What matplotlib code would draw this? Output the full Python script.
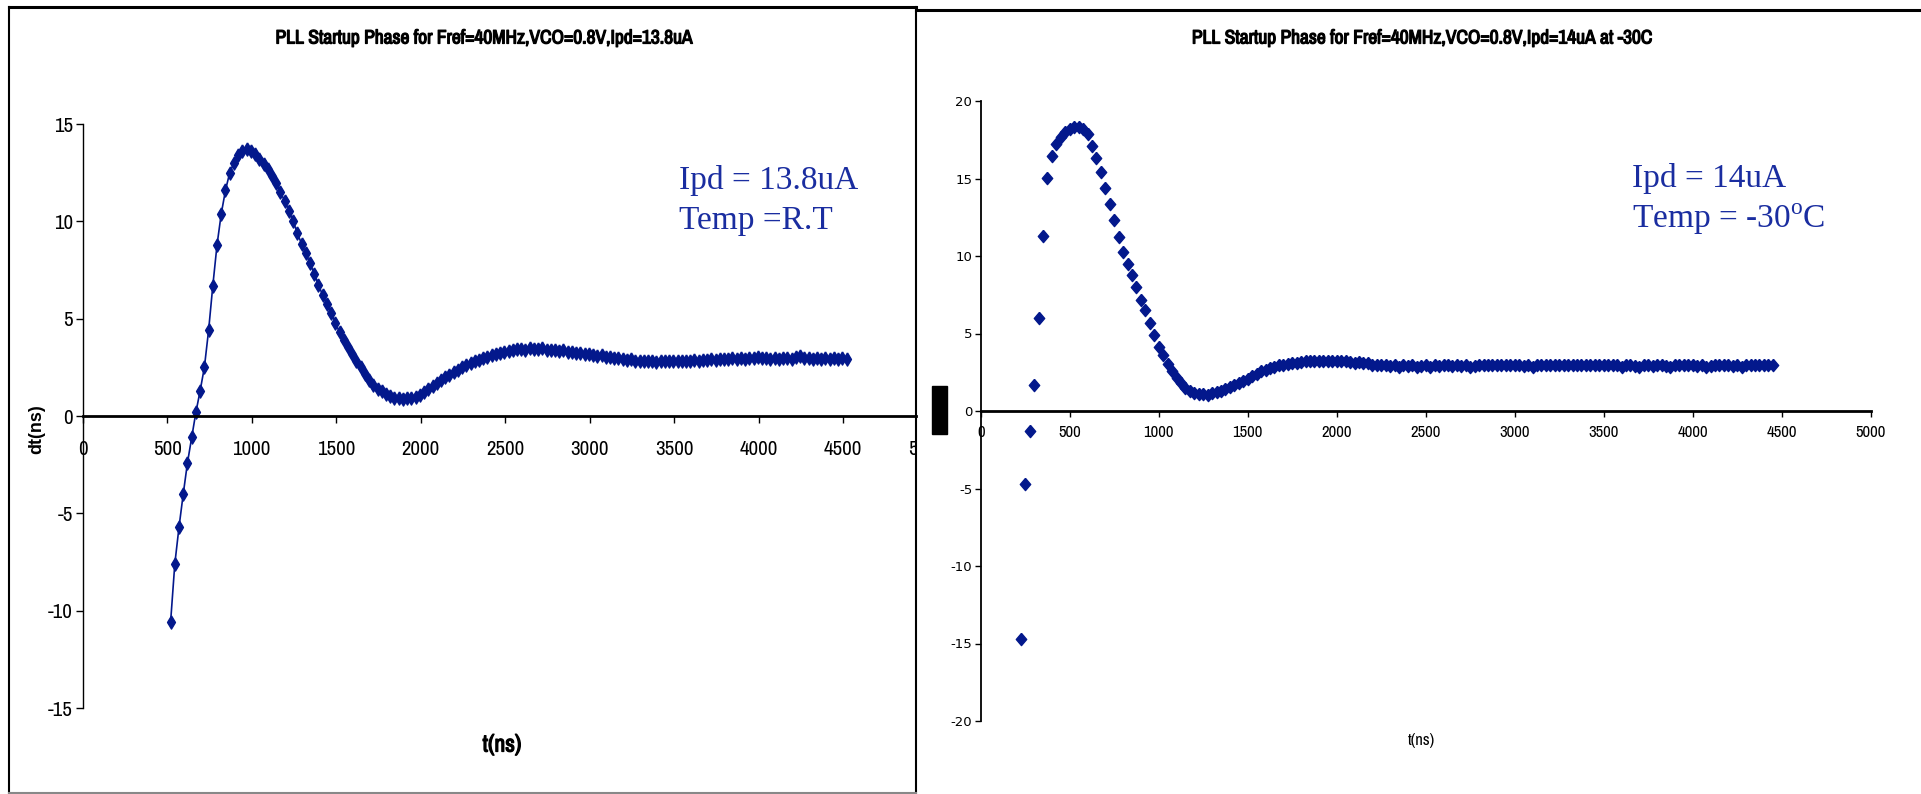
import numpy as np
import matplotlib.pyplot as plt
from matplotlib import font_manager
from matplotlib.lines import Line2D
from matplotlib.patches import Rectangle
import matplotlib.patheffects as pe
import matplotlib.transforms as mtransforms

# one sample per reference cycle (Fref = 40 MHz -> 25 ns)
T_REF = 25

# left chart: Ipd = 13.8uA at room temperature, first sample at 520 ns
t0_left = 520
dt_left = [
    -10.6, -7.6, -5.7, -4.0, -2.4, -1.1, 0.2, 1.3, 2.5, 4.4,
    6.7, 8.8, 10.4, 11.6, 12.5, 13.0, 13.4, 13.6, 13.7, 13.6,
    13.45, 13.2, 12.95, 12.7, 12.35, 11.95, 11.5, 11.05, 10.55, 10.0,
    9.4, 8.85, 8.35, 7.85, 7.3, 6.75, 6.2, 5.75, 5.3, 4.8,
    4.3, 3.9, 3.55, 3.2, 2.85, 2.5, 2.15, 1.85, 1.6, 1.4,
    1.3, 1.15, 1.05, 0.95, 0.9, 0.88, 0.9, 0.95, 1.0, 1.1,
    1.25, 1.4, 1.55, 1.7, 1.85, 2.0, 2.1, 2.25, 2.35, 2.5,
    2.6, 2.7, 2.8, 2.9, 3.0, 3.05, 3.15, 3.2, 3.25, 3.3,
    3.35, 3.4, 3.45, 3.45, 3.4, 3.5, 3.45, 3.45, 3.5, 3.4,
    3.4, 3.4, 3.35, 3.4, 3.3, 3.3, 3.25, 3.25, 3.2, 3.2,
    3.15, 3.1, 3.15, 3.05, 3.05, 3.0, 3.0, 2.95, 2.9, 2.95,
    2.85, 2.85, 2.85, 2.8, 2.85, 2.75, 2.8, 2.8, 2.85, 2.8,
    2.85, 2.8, 2.85, 2.8, 2.9, 2.85, 2.9, 2.9, 2.95, 2.9,
    2.95, 2.95, 2.95, 3.0, 2.95, 3.0, 2.95, 3.0, 3.0, 3.05,
    3.0, 3.0, 2.95, 3.0, 2.95, 3.0, 3.0, 2.95, 3.05, 3.1,
    3.0, 3.0, 2.95, 3.0, 2.95, 3.0, 2.95, 3.0, 2.95, 3.0,
    2.95,
]

# right chart: Ipd = 14uA at -30C, first sample at 225 ns
t0_right = 225
dt_right = [
    -14.7, -4.7, -1.3, 1.7, 6.0, 11.3, 15.05, 16.45, 17.25, 17.7,
    18.0, 18.2, 18.35, 18.35, 18.2, 17.9, 17.1, 16.35, 15.4, 14.4,
    13.35, 12.3, 11.2, 10.25, 9.5, 8.75, 8.0, 7.15, 6.5, 5.65,
    4.88, 4.15, 3.6, 3.05, 2.6, 2.15, 1.8, 1.5, 1.3, 1.15,
    1.1, 1.1, 1.05, 1.15, 1.2, 1.3, 1.4, 1.55, 1.65, 1.8,
    1.95, 2.05, 2.25, 2.4, 2.55, 2.65, 2.8, 2.85, 2.95, 3.0,
    3.05, 3.1, 3.1, 3.15, 3.2, 3.2, 3.25, 3.25, 3.2, 3.25,
    3.25, 3.2, 3.25, 3.2, 3.15, 3.1, 3.15, 3.1, 3.1, 3.0,
    2.95, 2.95, 2.95, 2.9, 2.95, 2.85, 2.95, 2.9, 2.95, 2.85,
    2.9, 2.95, 2.85, 2.95, 2.9, 2.95, 2.95, 2.9, 2.95, 2.9,
    2.95, 2.85, 2.9, 2.95, 2.95, 2.95, 2.95, 2.95, 2.95, 2.95,
    2.95, 2.95, 2.95, 2.9, 2.95, 2.85, 2.95, 2.95, 2.95, 2.95,
    2.95, 2.95, 2.95, 2.95, 2.95, 2.95, 2.95, 2.95, 2.95, 2.95,
    2.95, 2.95, 2.95, 2.95, 2.95, 2.85, 2.95, 2.95, 2.9, 2.85,
    2.95, 2.95, 2.9, 2.95, 2.95, 2.9, 2.85, 2.95, 2.95, 2.95,
    2.95, 2.95, 2.9, 2.95, 2.85, 2.9, 2.95, 2.95, 2.95, 2.95,
    2.9, 2.95, 2.85, 2.95, 2.95, 3.0, 2.95, 2.95, 3.0, 2.95,
]

t_left = t0_left + T_REF * np.arange(len(dt_left))
t_right = t0_right + T_REF * np.arange(len(dt_right))

title_left = 'PLL Startup Phase for Fref=40MHz,VCO=0.8V,Ipd=13.8uA'
title_right = 'PLL Startup Phase for Fref=40MHz,VCO=0.8V,Ipd=14uA at -30C'
note_left = ['Ipd = 13.8uA', 'Temp =R.T']
note_right = ['Ipd = 14uA', r'Temp = -30$^{\mathrm{o}}$C']

xticks = [0, 500, 1000, 1500, 2000, 2500, 3000, 3500, 4000, 4500, 5000]
yticks_left = [-15, -10, -5, 0, 5, 10, 15]
yticks_right = [-20, -15, -10, -5, 0, 5, 10, 15, 20]

MARK = '#03188c'
NOTE = '#1a2da0'

# Excel used Arial Narrow; take the closest narrow face that is installed
names = {f.name for f in font_manager.fontManager.ttflist}
NARROW = next((n for n in ['Liberation Sans Narrow', 'Archivo Narrow']
               if n in names), 'Liberation Sans')
plt.rcParams['axes.unicode_minus'] = False
plt.rcParams['mathtext.fontset'] = 'custom'
plt.rcParams['mathtext.rm'] = 'Liberation Serif'

# the narrow face has no bold weight, so thicken it with a stroke
BOLD = [pe.withStroke(linewidth=0.9, foreground='black')]

W, H = 1921, 794
fig = plt.figure(figsize=(W / 100, H / 100), dpi=100)


def fx(px):
    return px / W


def fy(py):
    return 1 - py / H


def style_axes(ax):
    for s in ['top', 'right']:
        ax.spines[s].set_visible(False)
    ax.spines['bottom'].set_position(('data', 0))
    ax.patch.set_alpha(0)


# ---- left chart
ax1 = fig.add_axes([fx(82.7), fy(708), fx(916 - 82.7), (708 - 124) / H])
style_axes(ax1)
ax1.plot(t_left, dt_left, color=MARK, lw=1.2,
         marker=[(0, 1), (0.6, 0), (0, -1), (-0.6, 0), (0, 1)], ms=9.5,
         mec=MARK, mfc=MARK)
ax1.set_xticks(xticks)
ax1.set_yticks(yticks_left)
ax1.set_xlim(0, 4931)
ax1.set_ylim(-15, 15)
ax1.spines['bottom'].set_linewidth(2.0)
ax1.spines['left'].set_linewidth(1.0)
ax1.tick_params(axis='x', direction='out', length=5, width=1, pad=12,
                labelsize=15, labelfontfamily=NARROW)
ax1.tick_params(axis='y', direction='out', length=5, width=1, pad=2,
                labelsize=15, labelfontfamily=NARROW)
# the 5000 label is cut off by the chart frame
off = mtransforms.offset_copy(ax1.transData, fig=fig, y=-17, units='points')
ax1.text(5000, 0, '5000', transform=off, ha='center', va='top', fontsize=15,
         family=NARROW, clip_on=True)

fig.text(fx(484), fy(38), title_left, ha='center', va='center', fontsize=14,
         family=NARROW, path_effects=BOLD)
fig.text(fx(502), fy(745), 't(ns)', ha='center', va='center', fontsize=17,
         family=NARROW, path_effects=BOLD)
fig.text(fx(37), fy(429), 'dt(ns)', ha='center', va='center', fontsize=13,
         fontweight='bold', family='Liberation Sans', rotation=90)
fig.text(fx(679), fy(181), note_left[0], ha='left', va='center', fontsize=24,
         family='Liberation Serif', color=NOTE)
fig.text(fx(679), fy(221), note_left[1], ha='left', va='center', fontsize=24,
         family='Liberation Serif', color=NOTE)

# ---- right chart
ax2 = fig.add_axes([fx(980.7), fy(721), fx(890), (721 - 101) / H])
style_axes(ax2)
ax2.plot(t_right, dt_right, ls='none',
         marker=[(0, 1), (0.85, 0), (0, -1), (-0.85, 0), (0, 1)], ms=8.8,
         mec=MARK, mfc=MARK)
ax2.set_xticks(xticks)
ax2.set_yticks(yticks_right)
ax2.set_xlim(0, 5000)
ax2.set_ylim(-20, 20)
ax2.spines['bottom'].set_linewidth(2.0)
ax2.spines['left'].set_linewidth(1.3)
ax2.tick_params(axis='x', direction='out', length=4, width=1, pad=6,
                labelsize=12, labelfontfamily=NARROW)
ax2.tick_params(axis='y', direction='out', length=4, width=1, pad=2,
                labelsize=9.5, labelfontfamily='DejaVu Sans')

fig.text(fx(1422), fy(38), title_right, ha='center', va='center', fontsize=14,
         family=NARROW, path_effects=BOLD)
fig.text(fx(1421), fy(741), 't(ns)', ha='center', va='center', fontsize=12,
         family=NARROW)
fig.text(fx(1632), fy(179), note_right[0], ha='left', va='center', fontsize=24,
         family='Liberation Serif', color=NOTE)
fig.text(fx(1632), fy(219), note_right[1], ha='left', va='center', fontsize=24,
         family='Liberation Serif', color=NOTE)

# ---- frames
fig.add_artist(Rectangle((fx(932), fy(434)), fx(15), 48 / H, color='black',
                         transform=fig.transFigure))
frame = dict(transform=fig.transFigure, color='black')
fig.add_artist(Line2D([fx(9), fx(9)], [fy(7), fy(794)], lw=1.5, **frame))
fig.add_artist(Line2D([fx(916), fx(916)], [fy(7), fy(794)], lw=1.5, **frame))
fig.add_artist(Line2D([fx(9), fx(916)], [fy(7), fy(7)], lw=2.2, **frame))
fig.add_artist(Line2D([fx(916), fx(1921)], [fy(10), fy(10)], lw=2.2, **frame))
fig.add_artist(Line2D([fx(9), fx(916)], [fy(792.5), fy(792.5)], lw=1.5,
                      transform=fig.transFigure, color='#888888'))

fig.savefig('out.png', dpi=100)
